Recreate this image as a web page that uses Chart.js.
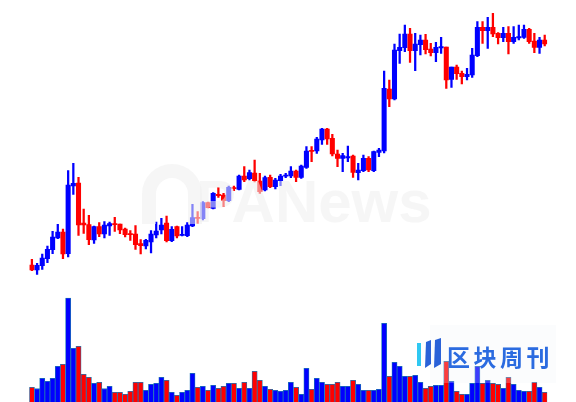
<!DOCTYPE html>
<html>
<head>
<meta charset="utf-8">
<script src="https://cdn.jsdelivr.net/npm/chart.js@4.4.1/dist/chart.umd.min.js"></script>
<style>
  html, body { margin: 0; padding: 0; background: #fff; }
  #wrap { position: relative; width: 576px; height: 402px; overflow: hidden; }
  #priceChart { position: absolute; left: 0; top: 0; }
  #volChart { position: absolute; left: 0; top: 290px; }
</style>
</head>
<body>
<div id="wrap">
  <canvas id="priceChart" width="576" height="290"></canvas>
  <canvas id="volChart" width="576" height="112"></canvas>
</div>
<script>
'use strict';

// 1. data (100 sessions)
var openPrices = [35, 30, 34.3, 41.3, 50.3, 62, 68, 46.3, 114, 117,
  77, 75.3, 60, 73.3, 66, 74, 76, 76, 71, 66,
  66, 56.3, 54, 58, 65, 70, 77, 59.3, 73.3, 64.5,
  64.3, 74, 82.5, 81.3, 97.3, 91.7, 105.7, 105, 99.3, 112.3,
  110.7, 124, 121.3, 127, 119, 110, 122.7, 113.3, 119.3, 123.8,
  124, 129, 122.7, 132.7, 149.5, 149, 160, 171, 161.7, 146,
  141.7, 142.2, 144, 127.3, 129.3, 141.7, 129.3, 147.7, 149, 211,
  201, 249.3, 252.3, 266, 249.3, 255.3, 260, 251, 247.3, 252.2,
  253, 220.7, 233, 226.7, 223.3, 225, 244.3, 272.7, 269.3, 272.7,
  266.7, 262.3, 266.7, 258.3, 262.2, 262.7, 270.7, 259, 252.7, 260];

var closePrices = [30, 34.7, 42, 50.7, 63, 68, 46, 115, 116.7, 75,
  75, 60.3, 73.3, 66, 75, 76.3, 75.3, 70, 65.3, 65.3,
  55.3, 54.3, 59.7, 66, 69, 75, 59.3, 70.7, 64, 65.5,
  75, 82.3, 81.5, 97.3, 92.3, 106.7, 104.3, 99.3, 112.7, 111.3,
  124, 120, 127.3, 119.3, 108.3, 122.3, 113.3, 120, 124, 124.8,
  129, 122.7, 134, 149, 148.5, 161, 171, 161, 146, 141.7,
  144.3, 143.2, 127.7, 130, 141.7, 130, 148.3, 150, 211.7, 201,
  250, 252.7, 266, 249.3, 256, 260, 250.3, 247.3, 252.7, 253.2,
  220, 233, 226.3, 223.3, 225.7, 245, 272.7, 269.3, 272.7, 266,
  262.3, 266.7, 258.3, 262.7, 263.2, 270.7, 258.3, 252.7, 260, 256];

var highPrices = [40.7, 36.7, 46, 54, 68.7, 75.7, 71, 129.3, 136.7, 122.7,
  91, 84.7, 74, 77.3, 78.3, 78, 82.7, 76, 72, 69.3,
  74.3, 60.3, 60.7, 69.3, 78, 81.7, 84, 73.3, 74, 73.3,
  77.3, 95.7, 88.3, 98.3, 98, 107.3, 112.7, 106.7, 114, 114,
  125, 133.3, 130, 140, 126.7, 124, 125, 121.7, 125.7, 126.7,
  133.3, 130, 135, 153.3, 153.3, 162.7, 171.7, 171.7, 165.7, 150,
  146.7, 154, 145, 136.7, 145, 143.3, 149, 151.7, 229, 220,
  256, 266, 275, 271.7, 266.7, 265, 265.7, 256.7, 257.7, 262.7,
  253, 233, 235, 229, 231.7, 251.7, 278.3, 278.3, 282.7, 286.7,
  267.3, 272.7, 273.3, 273.3, 275, 275, 271.7, 266.7, 262.7, 265];

var lowPrices = [29.3, 25.7, 30.7, 37.3, 46.3, 61.3, 41.3, 43, 105.7, 64.7,
  66.7, 55.3, 56.7, 63.3, 62, 64.7, 68.7, 66.3, 63, 59.7,
  50.7, 46, 51, 47, 62, 66, 58, 58.3, 62, 64,
  63.3, 73.3, 76.7, 80, 92, 91, 102.7, 93.3, 98.3, 109.3,
  110, 118.3, 120, 118, 106.7, 109, 112.3, 111, 114.3, 122.3,
  122.3, 118.3, 121.7, 131.7, 138.3, 146.7, 155.7, 155.7, 144, 133.3,
  128.3, 138.3, 122.7, 120, 128.3, 128.3, 128.3, 143.3, 147, 193.3,
  200, 236.7, 248.3, 237.7, 229.3, 245, 246, 244, 238.3, 246.7,
  211.7, 212.7, 220.7, 216, 220, 222.7, 243.3, 256.7, 251.7, 263.3,
  256, 258.3, 246, 256.7, 260, 261.7, 256.7, 247.3, 246.7, 254];

var volumes = [44, 40, 71, 62, 71, 107, 113, 312, 161, 167,
  83, 74, 56, 59, 40, 47, 29, 29, 23, 32,
  59, 59, 35, 53, 56, 74, 65, 29, 20, 29,
  35, 86, 44, 47, 35, 50, 41, 47, 56, 56,
  41, 59, 41, 92, 65, 47, 38, 35, 32, 35,
  59, 44, 23, 101, 38, 71, 59, 53, 53, 59,
  47, 47, 65, 53, 35, 35, 35, 38, 236, 77,
  119, 107, 77, 77, 80, 59, 41, 47, 50, 50,
  122, 62, 32, 23, 23, 56, 107, 56, 65, 56,
  53, 41, 74, 53, 35, 32, 32, 59, 44, 29];

var upColor = '#0000ff';
var downColor = '#ff0000';

// 2. build what chart.js wants
var labels = [];
var wickData = [];
var bodyData = [];
var candleColors = [];
for (var i = 0; i < openPrices.length; i++) {
  labels[i] = 'D' + (i + 1);
  wickData[i] = [lowPrices[i], highPrices[i]];
  bodyData[i] = [openPrices[i], closePrices[i]];
  candleColors[i] = closePrices[i] >= openPrices[i] ? upColor : downColor;
}

// faint PANews watermark on top of the candles
var watermark = {
  id: 'watermark',
  afterDatasetsDraw: function (chart) {
    var c = chart.ctx;
    c.save();
    c.fillStyle = 'rgba(238,238,238,0.55)';
    c.strokeStyle = 'rgba(238,238,238,0.55)';
    // round logo
    c.lineWidth = 14;
    c.beginPath();
    c.arc(172, 194, 23, Math.PI, 2 * Math.PI);
    c.stroke();
    c.fillRect(142, 194, 14, 30);
    c.fillRect(188, 194, 14, 30);
    c.font = 'bold 60px "Liberation Sans", Arial, sans-serif';
    c.textBaseline = 'alphabetic';
    c.fillText('PANews', 196, 222);
    c.restore();
  }
};

// 3. candles
var priceChart = new Chart(document.getElementById('priceChart').getContext('2d'), {
  type: 'bar',
  data: {
    labels: labels,
    datasets: [{
      label: 'wick',
      data: wickData,
      backgroundColor: candleColors,
      barThickness: 1.6,
      grouped: false,
      borderSkipped: false
    }, {
      label: 'body',
      data: bodyData,
      backgroundColor: candleColors,
      barThickness: 4.4,
      minBarLength: 1.2,
      grouped: false,
      borderSkipped: false
    }]
  },
  options: {
    responsive: false,
    animation: false,
    devicePixelRatio: 1,
    layout: { padding: { left: 29.3, right: 28.7, top: 0, bottom: 0 } },
    plugins: { legend: { display: false }, tooltip: { enabled: false } },
    scales: {
      x: { display: false, offset: true },
      y: { display: false, min: 10, max: 300 }
    }
  },
  plugins: [watermark]
});

// 区块周刊 logo over the volume panel
var brand = {
  id: 'brand',
  afterDatasetsDraw: function (chart) {
    var c = chart.ctx;
    c.save();
    c.fillStyle = 'rgba(240,243,248,0.25)';
    c.fillRect(430, 35, 126, 58);
    c.fillStyle = '#2fc8f2';
    c.fillRect(417, 53, 4, 23);
    c.fillStyle = '#2a62d8';
    c.beginPath();
    c.moveTo(426, 52); c.lineTo(431, 50); c.lineTo(431, 74); c.lineTo(425, 78); c.closePath();
    c.fill();
    c.beginPath();
    c.moveTo(435, 50); c.lineTo(441, 48); c.lineTo(441, 74); c.lineTo(434, 78); c.closePath();
    c.fill();
    c.fillStyle = '#2b6be0';
    c.font = 'bold 23px "Noto Sans CJK SC", sans-serif';
    c.textBaseline = 'middle';
    var word = '区块周刊';
    for (var k = 0; k < word.length; k++) {
      c.fillText(word[k], 447 + k * 26.5, 67);
    }
    c.restore();
  }
};

// 4. volume
var volChart = new Chart(document.getElementById('volChart').getContext('2d'), {
  type: 'bar',
  data: {
    labels: labels,
    datasets: [{
      label: 'volume',
      data: volumes,
      backgroundColor: candleColors,
      borderColor: '#1f77b4',
      borderWidth: 0.8,
      barPercentage: 1.0,
      categoryPercentage: 1.0
    }]
  },
  options: {
    responsive: false,
    animation: false,
    devicePixelRatio: 1,
    layout: { padding: { left: 29.3, right: 28.7, top: 0, bottom: 0 } },
    plugins: { legend: { display: false }, tooltip: { enabled: false } },
    scales: {
      x: { display: false },
      y: { display: false, min: 0, max: 336 }
    }
  },
  plugins: [brand]
});
</script>
</body>
</html>
